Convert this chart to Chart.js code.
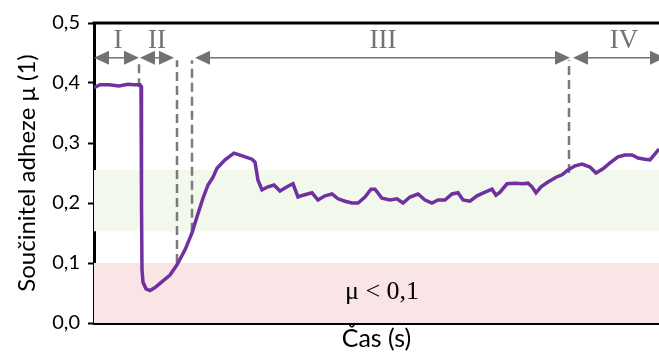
<!DOCTYPE html>
<html>
<head>
<meta charset="utf-8">
<script src="https://cdn.jsdelivr.net/npm/chart.js@4/dist/chart.umd.min.js"></script>
<style>
	html, body { margin: 0; padding: 0; background: #fff; }
	#wrap { width: 659px; height: 354px; position: relative; }
</style>
</head>
<body>
<div id="wrap"><canvas id="chart"></canvas></div>
<script>
// time axis (arbitrary units, no ticks on the original)
var casS = [0, 6, 15, 25, 34, 40, 46, 47, 47.5, 48, 49, 52, 56, 61, 66, 76, 83, 91, 98, 103, 109,
	114, 119, 123, 131, 140, 149, 158, 161, 164, 168, 174, 180, 186, 193, 199, 204, 209, 218, 224, 231,
	238, 244, 251, 258, 264, 271, 277, 281, 288, 296, 303, 309, 316, 324, 331, 338, 344, 351, 358, 364,
	369, 376, 383, 391, 398, 402, 406, 413, 421, 429, 434, 438, 442, 447, 454, 462, 468, 474, 481, 488,
	496, 502, 509, 516, 524, 531, 538, 544, 551, 556, 561, 565];

var mu = [0.392, 0.397, 0.397, 0.395, 0.398, 0.397, 0.397, 0.395, 0.2, 0.088, 0.068, 0.057, 0.054, 0.059, 0.066, 0.08, 0.097, 0.122, 0.15, 0.177, 0.208,
	0.23, 0.243, 0.258, 0.272, 0.283, 0.278, 0.273, 0.268, 0.238, 0.222, 0.227, 0.23, 0.22, 0.227, 0.232, 0.21, 0.213, 0.217, 0.205, 0.212,
	0.215, 0.207, 0.203, 0.2, 0.2, 0.21, 0.223, 0.223, 0.208, 0.205, 0.207, 0.2, 0.21, 0.215, 0.205, 0.2, 0.205, 0.205, 0.215, 0.217,
	0.205, 0.203, 0.212, 0.218, 0.223, 0.213, 0.218, 0.232, 0.233, 0.232, 0.233, 0.227, 0.217, 0.227, 0.235, 0.243, 0.247, 0.255, 0.262, 0.265,
	0.26, 0.25, 0.257, 0.267, 0.277, 0.28, 0.28, 0.275, 0.273, 0.272, 0.282, 0.29];

// background bands
var pasmoZelene = [0.153, 0.255];
var pasmoCervene = [0, 0.1];

// phase borders (dashed lines) and phase arrows
var hraniceCas = [45, 83, 98, 475];
var hraniceMu = [0.393, 0.1, 0.152, 0.25];
var faze = ["I", "II", "III", "IV"];
var fazeStred = [24, 63, 289, 530];
var sipkyOd = [0, 46, 101, 479];
var sipkyDo = [45, 80, 476, 571];
var sipkyMu = 0.442;
var popiskyMu = 0.458;
var hraniceHore = 0.438;

var xMax = 565;
var carka = function (v) {
	return v.toFixed(1).replace(".", ",");
};

var pasmo = function (od, po, barva) {
	return {
		data: [{ x: 0, y: po }, { x: xMax, y: po }],
		borderWidth: 0,
		borderColor: "rgba(0,0,0,0)",
		backgroundColor: barva,
		fill: { value: od },
		pointRadius: 0,
		order: 10,
	};
};

var datasets = [
	pasmo(pasmoZelene[0], pasmoZelene[1], "#f2f8ec"),
	pasmo(pasmoCervene[0], pasmoCervene[1], "#f9e4e6"),
];

hraniceCas.forEach(function (t, i) {
	datasets.push({
		data: [{ x: t, y: hraniceMu[i] }, { x: t, y: hraniceHore }],
		borderColor: "#7a7a7a",
		borderWidth: 2.5,
		borderDash: [9, 5],
		pointRadius: 0,
		fill: false,
		order: 5,
	});
});

datasets.push({
	data: casS.map(function (t, i) {
		return { x: t, y: mu[i] };
	}),
	borderColor: "#7030a0",
	borderWidth: 3.5,
	pointRadius: 0,
	fill: false,
	tension: 0,
	order: 0,
});

// arrows, roman numerals, the mu < 0,1 note and the top frame line
var popisky = {
	id: "popisky",
	afterDatasetsDraw: function (chart) {
		var ctx = chart.ctx;
		var xs = chart.scales.x;
		var ys = chart.scales.y;
		var area = chart.chartArea;
		var yA = ys.getPixelForValue(sipkyMu);

		ctx.save();
		ctx.strokeStyle = "#000";
		ctx.lineWidth = 3;
		ctx.beginPath();
		ctx.moveTo(area.left - 1.5, area.top);
		ctx.lineTo(area.right, area.top);
		ctx.stroke();

		var hlava = function (x, smer) {
			ctx.beginPath();
			ctx.moveTo(x, yA);
			ctx.lineTo(x + smer * 15, yA - 7);
			ctx.lineTo(x + smer * 15, yA + 7);
			ctx.closePath();
			ctx.fill();
		};

		ctx.strokeStyle = "#767171";
		ctx.fillStyle = "#767171";
		ctx.lineWidth = 1.5;
		for (var i = 0; i < faze.length; i++) {
			var x1 = xs.getPixelForValue(sipkyOd[i]);
			var x2 = xs.getPixelForValue(sipkyDo[i]);
			ctx.beginPath();
			ctx.moveTo(x1 + 10, yA);
			ctx.lineTo(x2 - 10, yA);
			ctx.stroke();
			hlava(x1, 1);
			hlava(x2, -1);

			ctx.font = "27px 'Liberation Serif'";
			ctx.textAlign = "center";
			ctx.textBaseline = "alphabetic";
			ctx.fillText(faze[i], xs.getPixelForValue(fazeStred[i]), ys.getPixelForValue(popiskyMu));
		}

		ctx.fillStyle = "#000";
		ctx.font = "26px 'Liberation Serif'";
		ctx.textAlign = "center";
		ctx.textBaseline = "middle";
		ctx.fillText("\u03bc < 0,1", xs.getPixelForValue(288), ys.getPixelForValue(0.052));
		ctx.restore();
	},
};

new Chart(document.getElementById("chart"), {
	type: "line",
	data: { datasets: datasets },
	plugins: [popisky],
	options: {
		responsive: true,
		maintainAspectRatio: false,
		animation: false,
		layout: { padding: { top: 23, right: 0, left: 0, bottom: 0 } },
		plugins: { legend: { display: false }, tooltip: { enabled: false } },
		scales: {
			x: {
				type: "linear",
				min: 0,
				max: xMax,
				ticks: { display: false },
				grid: { display: false },
				border: { display: true, color: "#000", width: 3 },
				title: {
					display: true,
					text: "\u010cas (s)",
					color: "#000",
					font: { family: "Lato", size: 25 },
					padding: { top: 0, bottom: 0 },
				},
				afterFit: function (scale) {
					scale.height = 31;
				},
			},
			y: {
				min: 0,
				max: 0.5,
				ticks: {
					stepSize: 0.1,
					color: "#000",
					padding: 8,
					font: { family: "Lato", size: 20 },
					callback: function (v) {
						return carka(v);
					},
				},
				grid: {
					display: true,
					drawOnChartArea: false,
					drawTicks: true,
					tickLength: 6,
					tickColor: "#000",
					tickWidth: 2,
				},
				border: { display: true, color: "#000", width: 3 },
				title: {
					display: true,
					text: "Sou\u010dinitel adheze \u03bc (1)",
					color: "#000",
					font: { family: "Lato", size: 24 },
					padding: { top: 13, bottom: 0 },
				},
				afterFit: function (scale) {
					scale.width = 94;
				},
			},
		},
	},
});
</script>
</body>
</html>
